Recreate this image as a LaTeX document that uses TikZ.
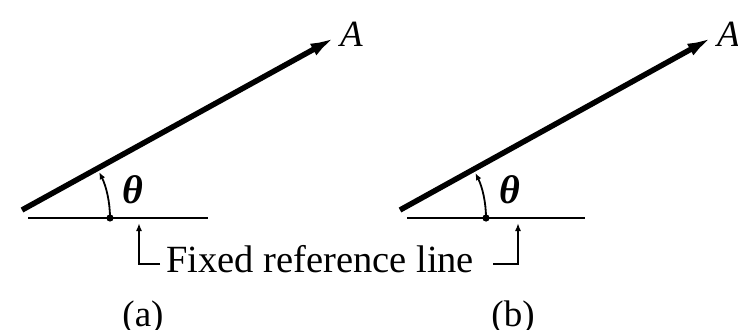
\documentclass[tikz,border=0pt]{standalone}
\usepackage{fontspec}
\setmainfont{Liberation Serif}
\usetikzlibrary{arrows.meta}
\begin{document}
\begin{tikzpicture}[x=1pt,y=-1pt,
  vec/.style={line width=5.5pt,-{Latex[length=26pt,width=13pt]}},
  refline/.style={line width=1.8pt},
  anglearc/.style={line width=1.8pt,-{Latex[length=7pt,width=6pt]}},
  bracket/.style={line width=1.6pt,-{Latex[length=8pt,width=6pt]}},
  lbl/.style={inner sep=0pt,font=\fontsize{37}{40}\selectfont\itshape},
  th/.style={inner sep=0pt,font=\fontsize{40}{42}\selectfont\bfseries\itshape},
  captext/.style={inner sep=0pt,font=\fontsize{37}{40}\selectfont}]
\useasboundingbox (0,0) rectangle (738,329);
% ---- panel (a)
\coordinate (ta) at (22,210);
\coordinate (ha) at (336,37);
\coordinate (ra1) at (28,218);
\coordinate (ra2) at (208,218);
\coordinate (da) at (110,218);
\draw[vec] (ta) -- (ha);
\node[lbl,anchor=base west] (Aa) at (340,47) {A};
\draw[refline] (ra1) -- (ra2);
\draw[anglearc] (da) arc[start angle=0,end angle=-26.5,radius=102.5];
\fill (da) circle (3.6);
\node[th] (tha) at (133,190) {θ};
% ---- panel (b)
\coordinate (tb) at (400,210);
\coordinate (hb) at (713,37);
\coordinate (rb1) at (407,218);
\coordinate (rb2) at (585,218);
\coordinate (db) at (486,218);
\draw[vec] (tb) -- (hb);
\node[lbl,anchor=base west] (Ab) at (717,47) {A};
\draw[refline] (rb1) -- (rb2);
\draw[anglearc] (db) arc[start angle=0,end angle=-26.5,radius=100.5];
\fill (db) circle (3.6);
\node[th] (thb) at (510,190) {θ};
% ---- common label
\node[captext,anchor=base west,font=\fontsize{38.5}{42}\selectfont] (fr) at (166,272) {Fixed reference line};
\coordinate (la) at (160,264);
\coordinate (lat) at (139,223);
\coordinate (lb) at (493,264);
\coordinate (lbt) at (518,223);
\draw[bracket] (la) -| (lat);
\draw[bracket] (lb) -| (lbt);
\node[captext,anchor=base] (capa) at (143,326) {(a)};
\node[captext,anchor=base] (capb) at (513,326) {(b)};
\end{tikzpicture}
\end{document}
